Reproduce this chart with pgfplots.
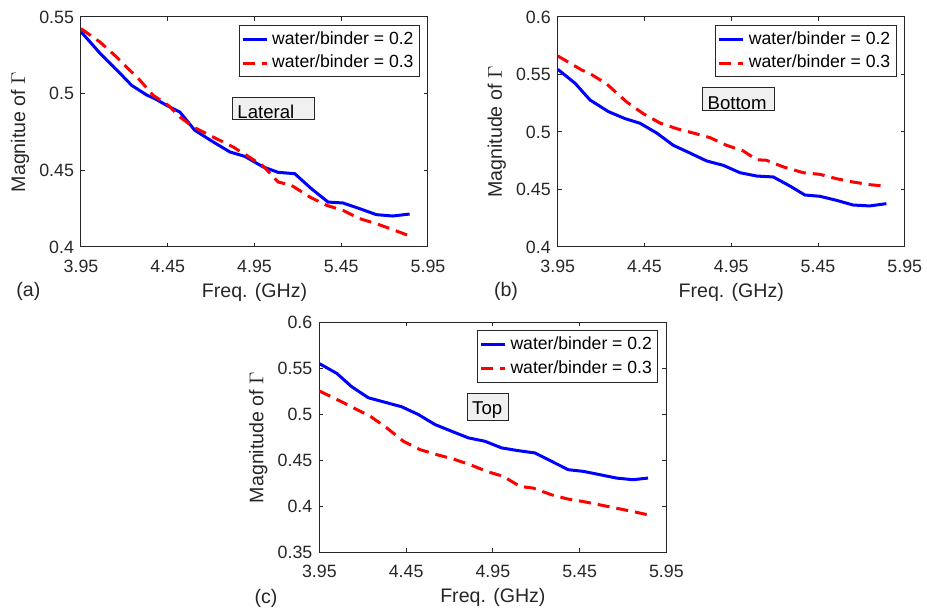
\documentclass[border=0pt]{standalone}
\usepackage{pgfplots}
\pgfplotsset{compat=1.18}
\usepackage{fontspec}
\setmainfont{Liberation Sans}

\definecolor{axgray}{RGB}{38,38,38}
\definecolor{boxfill}{RGB}{240,240,240}

\pgfplotsset{
  matstyle/.style={
    scale only axis, width=173.5pt, height=115pt,
    anchor=south west,
    xmin=3.95, xmax=5.95,
    xtick={3.95,4.45,4.95,5.45,5.95},
    xticklabels={3.95,4.45,4.95,5.45,5.95},
    tick align=inside, major tick length=2pt,
    axis line style={axgray, line width=0.5pt},
    every tick/.style={axgray, line width=0.5pt},
    tick label style={font=\fontsize{8.9}{10}\selectfont, text=axgray},
    xticklabel style={yshift=-3pt},
    /pgf/number format/assume math mode=true,
    /pgf/number format/fixed,
    xlabel={Freq. (GHz)},
    xlabel style={at={(axis description cs:0.5,0)}, anchor=base, yshift=-25.2pt, font=\fontsize{9.8}{11}\selectfont, text=axgray},
    ylabel style={at={(axis description cs:-0.1758,0.5)}, anchor=center, font=\fontsize{9.8}{11}\selectfont, text=axgray},
    legend style={at={(1,1)}, anchor=north east, xshift=-4pt, yshift=-4pt,
      font=\fontsize{8.8}{10}\selectfont, draw=axgray, line width=0.5pt,
      inner sep=1pt, row sep=0pt},
    legend cell align=left,
    legend image code/.code={\draw[#1] (0pt,0pt) -- (12pt,0pt);},
  },
  wb2/.style={blue, line width=1.5pt},
  wb3/.style={red, line width=1.5pt, dash pattern=on 6pt off 3.5pt},
}
\tikzset{
  tagbox/.style={draw=axgray, fill=boxfill, anchor=south west, line width=0.5pt,
    font=\fontsize{9.3}{10}\selectfont, align=left, inner ysep=0.3pt, text depth=0.3pt},
}

\begin{document}
\begin{tikzpicture}
\path[use as bounding box] (0pt,0pt) rectangle (463.5pt,-306.5pt);

% (a) Lateral
\begin{axis}[matstyle, at={(40.5pt,-123.5pt)},
  ymin=0.4, ymax=0.55, ytick={0.4,0.45,0.5,0.55},
  ylabel={Magnitue of $\Gamma$}]
\addplot[wb2] coordinates {
(3.95,0.5404) (4.06,0.5263) (4.175,0.5133) (4.242,0.5054) (4.329,0.4991)
(4.376,0.4967) (4.443,0.4924) (4.52,0.4880) (4.606,0.4761) (4.712,0.4685)
(4.808,0.4620) (4.894,0.4591) (5.0,0.4522) (5.086,0.4487) (5.182,0.4478)
(5.278,0.4380) (5.374,0.4293) (5.46,0.4287) (5.556,0.4250) (5.652,0.4211)
(5.748,0.4202) (5.844,0.4215)};
\addlegendentry{water/binder = 0.2}
\addplot[wb3] coordinates {
(3.95,0.5424) (4.059,0.5337) (4.155,0.5239) (4.29,0.5087) (4.366,0.4989)
(4.453,0.4924) (4.52,0.4848) (4.597,0.4783) (4.712,0.4717) (4.827,0.4652)
(4.904,0.4598) (5.0,0.4528) (5.086,0.4424) (5.163,0.4402) (5.269,0.4326)
(5.365,0.4272) (5.46,0.4239) (5.556,0.4185) (5.652,0.4152) (5.748,0.4113)
(5.844,0.4072)};
\addlegendentry{water/binder = 0.3}
\node[tagbox, text width=36pt, text height=10pt, inner xsep=2.5pt] at (rel axis cs:0.435,0.552) {Lateral};
\end{axis}

% (b) Bottom
\begin{axis}[matstyle, at={(278.9pt,-123.5pt)},
  ymin=0.4, ymax=0.6, ytick={0.4,0.45,0.5,0.55,0.6},
  ylabel={Magnitude of $\Gamma$}]
\addplot[wb2] coordinates {
(3.95,0.5545) (4.05,0.5423) (4.136,0.5278) (4.242,0.5177)
(4.338,0.5116) (4.424,0.5076) (4.52,0.4991) (4.616,0.4884) (4.712,0.4817)
(4.808,0.4748) (4.904,0.4710) (5.0,0.4646) (5.096,0.4617) (5.192,0.4609)
(5.288,0.4530) (5.374,0.4452) (5.46,0.4441) (5.556,0.4406) (5.652,0.4365)
(5.748,0.4357) (5.844,0.4377)};
\addlegendentry{water/binder = 0.2}
\addplot[wb3] coordinates {
(3.95,0.5661) (4.088,0.5539) (4.136,0.5507) (4.23,0.5420) (4.347,0.5261)
(4.443,0.5159) (4.539,0.5078) (4.635,0.5029) (4.731,0.4991) (4.827,0.4951)
(4.923,0.4884) (5.019,0.4835) (5.096,0.4759) (5.153,0.4754) (5.25,0.4696)
(5.365,0.4646) (5.46,0.4632) (5.556,0.4594) (5.652,0.4565) (5.748,0.4542)
(5.844,0.4528)};
\addlegendentry{water/binder = 0.3}
\node[tagbox, text width=31pt, text height=10.5pt, inner xsep=2.5pt] at (rel axis cs:0.416,0.591) {Bottom};
\end{axis}

% (c) Top
\begin{axis}[matstyle, at={(159.7pt,-276.2pt)},
  ymin=0.35, ymax=0.6, ytick={0.35,0.4,0.45,0.5,0.55,0.6},
  ylabel={Magnitude of $\Gamma$}]
\addplot[wb2] coordinates {
(3.95,0.5552) (4.05,0.5446) (4.136,0.5301) (4.232,0.5181) (4.338,0.5127)
(4.424,0.5083) (4.52,0.4999) (4.616,0.4890) (4.712,0.4817) (4.808,0.4745)
(4.904,0.4708) (5.0,0.4636) (5.096,0.4606) (5.192,0.4581) (5.288,0.4490)
(5.384,0.4399) (5.47,0.4381) (5.566,0.4345) (5.662,0.4308) (5.758,0.4290)
(5.844,0.4308)};
\addlegendentry{water/binder = 0.2}
\addplot[wb3] coordinates {
(3.95,0.5254) (4.05,0.5163) (4.146,0.5072) (4.242,0.4981) (4.338,0.4854)
(4.434,0.4708) (4.53,0.4617) (4.626,0.4563) (4.722,0.4515) (4.818,0.4454)
(4.914,0.4381) (5.01,0.4326) (5.106,0.4217) (5.182,0.4199) (5.288,0.4126)
(5.384,0.4079) (5.47,0.4053) (5.566,0.4017) (5.662,0.3980) (5.758,0.3944)
(5.844,0.3908)};
\addlegendentry{water/binder = 0.3}
\node[tagbox, text width=16pt, text height=10pt, text depth=2.5pt, inner xsep=2.25pt] at (rel axis cs:0.426,0.573) {Top};
\end{axis}

\node[anchor=base, font=\fontsize{9.8}{11}\selectfont, text=axgray] at (14.2pt,-148.5pt) {(a)};
\node[anchor=base, font=\fontsize{9.8}{11}\selectfont, text=axgray] at (253pt,-148.5pt) {(b)};
\node[anchor=base, font=\fontsize{9.8}{11}\selectfont, text=axgray] at (133pt,-302pt) {(c)};
\end{tikzpicture}
\end{document}
